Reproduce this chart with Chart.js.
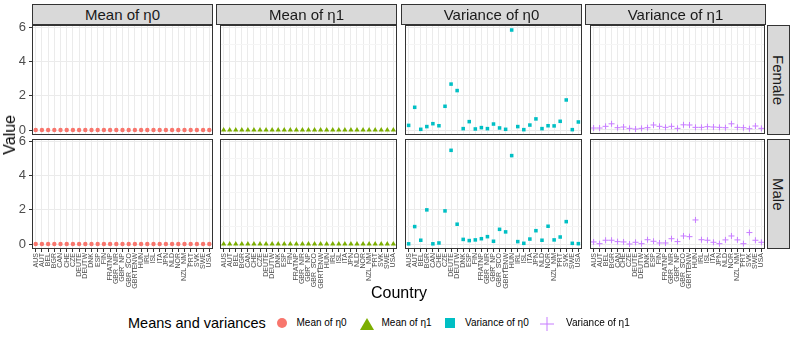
<!DOCTYPE html>
<html><head><meta charset="utf-8">
<script src="https://cdn.jsdelivr.net/npm/chart.js@4.4.0/dist/chart.umd.min.js"></script>
<style>
body{margin:0;background:#fff;width:793px;height:340px;overflow:hidden;position:relative;font-family:"Liberation Sans",Arial,sans-serif;}
.strip{position:absolute;background:#D9D9D9;border:1px solid #333;box-sizing:border-box;color:#1A1A1A;font-size:15px;display:flex;align-items:center;justify-content:center;white-space:nowrap;}
.vstrip{writing-mode:vertical-rl;}
.lbl{position:absolute;white-space:nowrap;color:#000;}
</style></head><body>
<script>
const countries = ['AUS','AUT','BEL','BGR','CAN','CHE','CZE','DEUTE','DEUTW','DNK','ESP','FIN','FRATNP','GBR_NIR','GBR_NP','GBR_SCO','GBRTENW','HUN','IRL','ISL','ITA','JPN','NLD','NOR','NZL_NM','PRT','SVK','SWE','USA'];
const yTicks = [0,1,2,3,4,5,6];
const panelTitles = ['Mean of η0','Mean of η1','Variance of η0','Variance of η1'];
const rowTitles = ['Female','Male'];

const femaleMeanEta0 = [0,0,0,0,0,0,0,0,0,0,0,0,0,0,0,0,0,0,0,0,0,0,0,0,0,0,0,0,0];
const maleMeanEta0   = [0,0,0,0,0,0,0,0,0,0,0,0,0,0,0,0,0,0,0,0,0,0,0,0,0,0,0,0,0];
const femaleMeanEta1 = [0,0,0,0,0,0,0,0,0,0,0,0,0,0,0,0,0,0,0,0,0,0,0,0,0,0,0,0,0];
const maleMeanEta1   = [0,0,0,0,0,0,0,0,0,0,0,0,0,0,0,0,0,0,0,0,0,0,0,0,0,0,0,0,0];
const femaleVarEta0 = [0.27,1.33,0.04,0.20,0.37,0.25,1.39,2.69,2.31,0.08,0.49,0.06,0.14,0.08,0.35,0.12,0.04,5.86,0.20,0.02,0.29,0.65,0.08,0.25,0.24,0.51,1.76,0.02,0.47];
const maleVarEta0   = [0.01,1.02,0.22,2.00,0.01,0.06,1.94,5.49,1.16,0.27,0.20,0.24,0.31,0.43,0.16,0.86,0.71,5.18,0.14,0.04,0.29,0.78,0.22,1.04,0.24,0.41,1.31,0.04,0.02];
const femaleVarEta1 = [0.06,0.06,0.16,0.31,0.08,0.12,0.04,0.00,0.04,0.08,0.24,0.16,0.10,0.16,0.04,0.25,0.24,0.10,0.10,0.14,0.12,0.10,0.08,0.31,0.10,0.08,0.02,0.18,0.04];
const maleVarEta1   = [0.12,0.02,0.22,0.22,0.14,0.12,0.00,0.10,0.02,0.25,0.16,0.06,0.06,0.31,0.14,0.47,0.43,1.41,0.25,0.22,0.10,0.02,0.24,0.47,0.24,0.02,0.67,0.22,0.10];

const series = [
  {female:femaleMeanEta0, male:maleMeanEta0, style:'circle', radius:2.2, color:'#F8766D', bw:0},
  {female:femaleMeanEta1, male:maleMeanEta1, style:'triangle', radius:3, color:'#7CAE00', bw:0},
  {female:femaleVarEta0, male:maleVarEta0, style:'rect', radius:2.5, color:'#00BFC4', bw:0},
  {female:femaleVarEta1, male:maleVarEta1, style:'cross', radius:3, color:'#C77CFF', bw:1}
];

const PW = 181, PH = 110;
const colLefts = [32, 216, 401, 585];
const rowTops = [25, 139];
const YMIN = -0.293, YMAX = 6.153;

Chart.defaults.font.family = "'Liberation Sans', Arial, sans-serif";

const borderPlugin = {
  id:'panelBorder',
  afterDraw(chart){
    const {ctx, chartArea:a} = chart;
    ctx.save(); ctx.strokeStyle='#333333'; ctx.lineWidth=1;
    ctx.strokeRect(a.left+0.5, a.top+0.5, a.right-a.left-1, a.bottom-a.top-1);
    ctx.restore();
  }
};

function addDiv(cls, text, css){
  const d = document.createElement('div');
  d.className = cls; d.textContent = text; d.style.cssText = css;
  document.body.appendChild(d); return d;
}

function makePanel(c, r){
  const padL = c===0 ? 32 : 0, padT = 8, padR = 4, padB = r===1 ? 50 : 4;
  const w = PW + padL + padR, h = PH + padT + padB;
  const cv = document.createElement('canvas');
  cv.width = w; cv.height = h;
  cv.style.cssText = `position:absolute;left:${colLefts[c]-padL}px;top:${rowTops[r]-padT}px;width:${w}px;height:${h}px;`;
  document.body.appendChild(cv);
  const s = series[c];
  const vals = r===0 ? s.female : s.male;
  new Chart(cv, {
    type:'scatter',
    data:{datasets:[{label:panelTitles[c], data: vals.map((v,i)=>({x:i+1,y:v})),
      pointStyle:s.style, pointRadius:s.radius, pointBackgroundColor:s.color,
      pointBorderColor:s.color, pointBorderWidth:s.bw, clip:false}]},
    options:{
      responsive:false, animation:false, devicePixelRatio:1,
      layout:{padding:{top:padT,right:padR,left:0,bottom:0}},
      plugins:{legend:{display:false}, tooltip:{enabled:false}},
      scales:{
        x:{type:'linear', min:0.4, max:29.6,
          afterBuildTicks: sc=>{ sc.ticks = countries.map((_,i)=>({value:i+1})); },
          afterFit: sc=>{ sc.height = padB; sc.paddingLeft = 0; sc.paddingRight = 0; },
          grid:{color:'#EBEBEB', lineWidth:1, drawTicks: r===1, tickLength:3, tickColor:'#333333'},
          border:{display:false},
          ticks:{display: r===1, autoSkip:false, minRotation:90, maxRotation:90, padding:1,
            font:{size:7}, color:'#4D4D4D', callback:(v)=>countries[Math.round(v)-1]}
        },
        y:{type:'linear', min:YMIN, max:YMAX,
          afterBuildTicks: sc=>{ sc.ticks = yTicks.map(v=>({value:v})); },
          afterFit: sc=>{ sc.width = padL; sc.paddingTop = 0; sc.paddingBottom = 0; },
          grid:{color: ctx => (ctx.tick && ctx.tick.value%2===0) ? '#EBEBEB' : '#F5F5F5', lineWidth:1,
            drawTicks: c===0, tickLength:3,
            tickColor: ctx => (ctx.tick && ctx.tick.value%2===0) ? '#333333' : 'rgba(0,0,0,0)'},
          border:{display:false},
          ticks:{display: c===0, padding:3, font:{size:13}, color:'#4D4D4D',
            callback:(v)=> v%2===0 ? String(v) : ''}
        }
      }
    },
    plugins:[borderPlugin]
  });
}

for(let r=0;r<2;r++) for(let c=0;c<4;c++) makePanel(c,r);

// top strips
panelTitles.forEach((t,c)=>{
  addDiv('strip', t, `left:${colLefts[c]}px;top:4px;width:${PW}px;height:21px;`);
});
// right strips
rowTitles.forEach((t,r)=>{
  addDiv('strip vstrip', t, `left:767px;top:${rowTops[r]}px;width:23px;height:${PH}px;`);
});

// axis titles
addDiv('lbl', 'Country', `left:0;width:${2*399}px;text-align:center;top:284px;font-size:16px;`);
addDiv('lbl', 'Value', `left:1px;top:115px;font-size:16px;writing-mode:vertical-rl;transform:rotate(180deg);`);

// legend
const legendItems = [
  {text:'Mean of η0', x:296.5, sym:'<svg width="12" height="12"><circle cx="6" cy="6" r="5" fill="#F8766D"/></svg>', sx:276},
  {text:'Mean of η1', x:381.5, sym:'<svg width="16" height="14"><polygon points="8,1 15,13 1,13" fill="#7CAE00"/></svg>', sx:359},
  {text:'Variance of η0', x:465, sym:'<svg width="12" height="12"><rect x="1" y="1" width="10" height="10" fill="#00BFC4"/></svg>', sx:444},
  {text:'Variance of η1', x:566, sym:'<svg width="14" height="14"><line x1="0" y1="7" x2="14" y2="7" stroke="#C77CFF" stroke-width="1"/><line x1="7" y1="0" x2="7" y2="14" stroke="#C77CFF" stroke-width="1"/></svg>', sx:540}
];
addDiv('lbl', 'Means and variances', 'left:128px;top:315px;font-size:14.5px;');
legendItems.forEach(it=>{
  const s = document.createElement('div');
  s.style.cssText = `position:absolute;left:${it.sx}px;top:317px;line-height:0;`;
  s.innerHTML = it.sym;
  document.body.appendChild(s);
  addDiv('lbl', it.text, `left:${it.x}px;top:317px;font-size:10px;`);
});
</script>
</body></html>
